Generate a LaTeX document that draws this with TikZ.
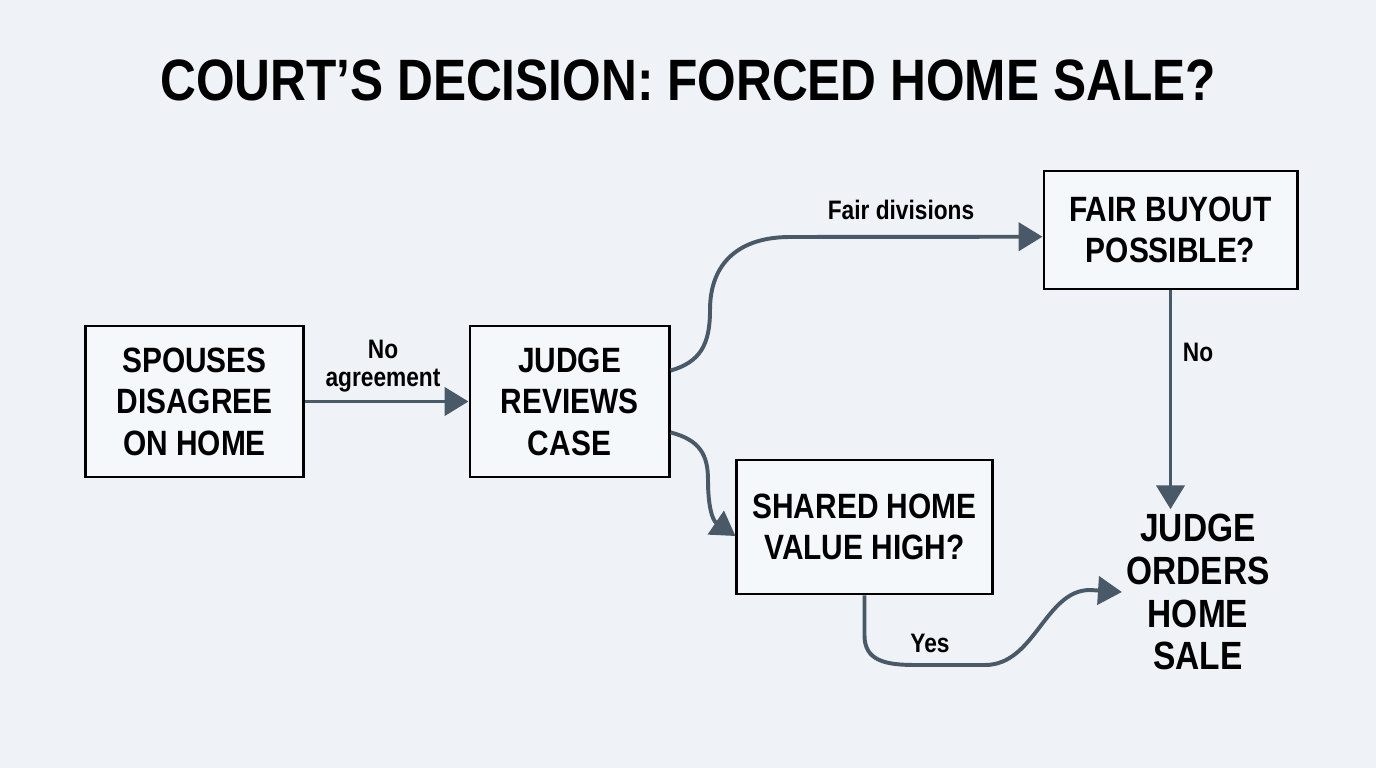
\documentclass[tikz,border=0pt]{standalone}
\usepackage{fontspec}
\setmainfont{Liberation Sans}[FakeStretch=0.85]
\usepackage{xcolor}
\usetikzlibrary{arrows.meta}

\definecolor{paper}{RGB}{239,243,248}
\definecolor{slate}{RGB}{74,89,103}

\begin{document}
\begin{tikzpicture}[
    x=0.025cm, y=-0.025cm,
    heading/.style={inner sep=0pt, font=\bfseries\fontsize{41.5}{48}\selectfont},
    box/.style={draw=black, line width=2.1pt, fill=paper!60!white, align=center, inner sep=0pt,
        font=\bfseries\fontsize{25}{29.5}\selectfont},
    outcome/.style={align=center, inner sep=3pt, font=\bfseries\fontsize{28}{30.5}\selectfont},
    lbl/.style={align=center, inner sep=0pt, font=\bfseries\fontsize{19}{20}\selectfont},
    flow/.style={draw=slate, line width=2.8pt, -{Triangle[length=17pt, width=20pt]}}
]

% Background
    \fill[paper] (0,0) rectangle (1376,768);

% Title
    \node[heading] (title) at (688,80) {COURT’S DECISION: FORCED HOME SALE?};

% --- Boxes
    \node[box, minimum width=5.425cm, minimum height=3.775cm] (spouses) at (194.5,401.5) {SPOUSES\\DISAGREE\\ON HOME};
    \node[box, minimum width=4.975cm, minimum height=3.775cm] (judge) at (569.5,401.5) {JUDGE\\REVIEWS\\CASE};
    \node[box, minimum width=6.325cm, minimum height=2.95cm] (buyout) at (1170.5,230) {FAIR BUYOUT\\POSSIBLE?};
    \node[box, minimum width=6.375cm, minimum height=3.35cm] (value) at (864.5,527) {SHARED HOME\\VALUE HIGH?};
    \node[outcome] (sale) at (1198,592) {JUDGE\\ORDERS\\HOME\\SALE};

% --- Labels
    \node[lbl] (lblagree) at (383,366) {No\\agreement};
    \node[lbl] (lblfair) at (901,210) {Fair divisions};
    \node[lbl] (lblno) at (1198,352) {No};
    \node[lbl] (lblyes) at (930,643) {Yes};

% --- Connectors
    \draw[flow] (spouses) -- (judge);
    \draw[flow] (judge.17.6) .. controls (700,362) and (710,345) .. (710,310)
        .. controls (710,262) and (740,237) .. (790,237) -- (buyout.183.2);
    \draw[flow] (judge.-17) .. controls (700,440) and (708,455) .. (708,480)
        .. controls (708,505) and (712,520) .. (value.184.5);
    \draw[flow] (buyout.south) -- (buyout.south |- sale.north);
    \draw[flow] (value.south) -- ++(0,40) .. controls ++(0,25) and (885,665) .. (915,665) -- (985,665)
        .. controls (1035,665) and (1045,590) .. (1090,590) -- (sale.west);
\end{tikzpicture}
\end{document}
